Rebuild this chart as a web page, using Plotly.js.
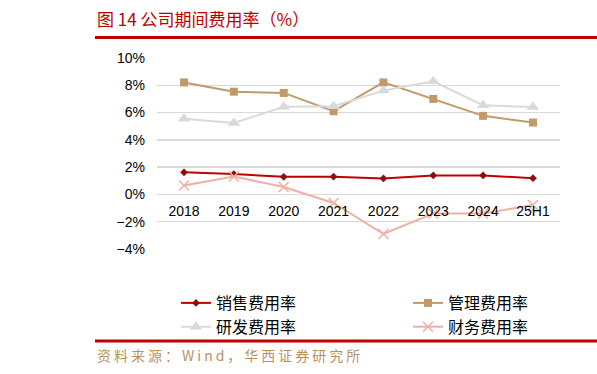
<!DOCTYPE html>
<html>
<head>
<meta charset="utf-8">
<script src="https://cdn.plot.ly/plotly-3.0.1.min.js"></script>
<style>html,body{margin:0;padding:0;background:#fff;}#chart{width:597px;height:374px;}
.annotation-text{letter-spacing:3px;}</style>
</head>
<body>
<div id="chart"></div>
<script>
const categories = ["2018", "2019", "2020", "2021", "2022", "2023", "2024", "25H1"];
const salesRate = [1.62, 1.49, 1.29, 1.30, 1.17, 1.39, 1.39, 1.19];
const adminRate = [8.21, 7.53, 7.44, 6.10, 8.21, 7.00, 5.76, 5.27];
const rdRate = [5.54, 5.24, 6.42, 6.47, 7.61, 8.29, 6.53, 6.40];
const financeRate = [0.66, 1.32, 0.54, -0.63, -2.90, -1.40, -1.40, -0.78];
const seriesNames = ["销售费用率", "管理费用率", "研发费用率", "财务费用率"];
const yTickVals = [-4, -2, 0, 2, 4, 6, 8, 10];
const yTickText = ["−4%", "−2%", "0%", "2%", "4%", "6%", "8%", "10%"];
const titleText = "图 14 公司期间费用率（%）";
const sourceText = "资料来源：Wind，华西证券研究所";

const cjk = '"Noto Sans CJK SC", "Noto Sans", sans-serif';
const num = '"Liberation Sans", Arial, sans-serif';

const traces = [
  {x: categories, y: salesRate, name: seriesNames[0], type: 'scatter', mode: 'lines+markers',
   line: {color: '#c00000', width: 2}, marker: {symbol: 'diamond', size: 6, color: '#8b1010'}},
  {x: categories, y: adminRate, name: seriesNames[1], type: 'scatter', mode: 'lines+markers',
   line: {color: '#c19a6b', width: 2}, marker: {symbol: 'square', size: 8, color: '#c19a6b'}},
  {x: categories, y: rdRate, name: seriesNames[2], type: 'scatter', mode: 'lines+markers',
   line: {color: '#d9d9d9', width: 2}, marker: {symbol: 'triangle-up', size: 11, color: '#d9d9d9'}},
  {x: categories, y: financeRate, name: seriesNames[3], type: 'scatter', mode: 'lines+markers',
   line: {color: '#efb0a4', width: 2}, marker: {symbol: 'x-thin', size: 10, color: '#efb0a4', line: {color: '#efb0a4', width: 1.5}}}
];

const H = 191, B = 125;
function py(pix) { return (374 - B - pix) / H; }
const L = 95, W = 492;
function px(pix) { return (pix - L) / W; }

const layout = {
  width: 597, height: 374,
  margin: {l: L, r: 597 - L - W, t: 58, b: B, autoexpand: false},
  paper_bgcolor: '#ffffff', plot_bgcolor: '#ffffff',
  showlegend: true,
  title: {text: titleText, font: {family: cjk, size: 17, color: '#c00000'},
          x: 97 / 597, xref: 'container', xanchor: 'left', y: 1 - 20 / 374, yref: 'container', yanchor: 'middle'},
  xaxis: {type: 'category', domain: [px(157), px(560)], anchor: 'free', position: 4 / 14,
          showgrid: false, showline: false, zeroline: false, ticks: '',
          ticklabelstandoff: 7, automargin: false,
          tickfont: {family: num, size: 14, color: '#000'}, fixedrange: true},
  yaxis: {range: [-4, 10], tickvals: yTickVals, ticktext: yTickText, automargin: false,
          showgrid: true, gridcolor: '#d9d9d9', gridwidth: 1.5,
          zeroline: true, zerolinecolor: '#d9d9d9', zerolinewidth: 1.5,
          showline: false, ticks: '', ticklabelstandoff: 11,
          tickfont: {family: num, size: 14, color: '#000'}, fixedrange: true},
  legend: {orientation: 'h', x: px(176), xanchor: 'left', y: py(286), yanchor: 'top',
           entrywidth: 187, entrywidthmode: 'pixels',
           font: {family: cjk, size: 16, color: '#000'}, bgcolor: 'rgba(0,0,0,0)'},
  shapes: [
    {type: 'line', xref: 'paper', yref: 'paper', x0: px(95), x1: px(597), y0: py(37.5), y1: py(37.5),
     line: {color: '#c00000', width: 3}},
    {type: 'line', xref: 'paper', yref: 'paper', x0: px(95), x1: px(597), y0: py(341), y1: py(341),
     line: {color: '#c00000', width: 3}}
  ],
  annotations: [
    {text: sourceText, xref: 'paper', yref: 'paper', x: px(95), y: py(355), xanchor: 'left', yanchor: 'middle',
     showarrow: false, font: {family: cjk, size: 14, color: '#b8925e'}}
  ]
};

Plotly.newPlot('chart', traces, layout, {displayModeBar: false, staticPlot: true});
</script>
</body>
</html>
